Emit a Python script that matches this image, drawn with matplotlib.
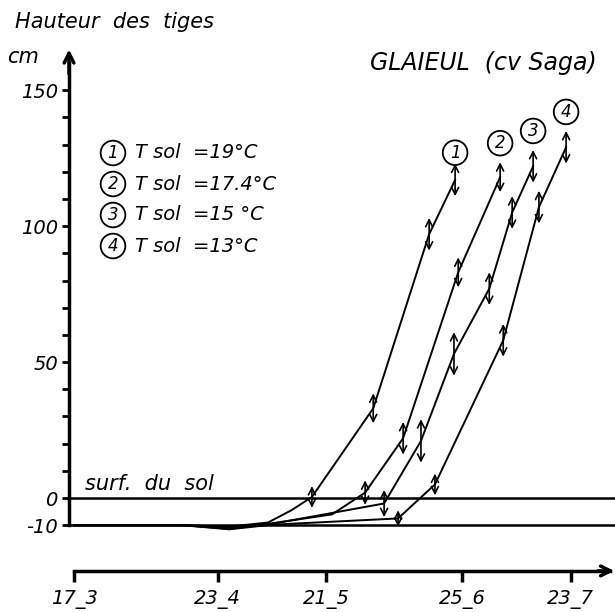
import numpy as np
import matplotlib.pyplot as plt

# days counted from 17 March
tick_days = [0, 37, 65, 100, 128]
tick_labels = ['17_3', '23_4', '21_5', '25_6', '23_7']

# stem height (cm), one curve per soil temperature; err = 0 -> no arrow
c1_days = [0, 28, 40, 50, 56, 61.3, 77.1, 91.5, 98.2]
c1_h = [-10, -10, -10.5, -9, -4.5, 0.4, 33, 97, 117]
c1_err = [0, 0, 0, 0, 0, 4, 5.5, 6, 6]

c2_days = [0, 28, 40, 50, 66.5, 75, 84.8, 99, 109.8]
c2_h = [-10, -10, -11, -9.5, -6, 2, 22, 83, 118]
c2_err = [0, 0, 0, 0, 0, 4.5, 6, 5.5, 5.5]

c3_days = [0, 28, 40, 51, 79.9, 89.4, 97.9, 107, 112.9, 118.3]
c3_h = [-10, -10, -11.3, -9.5, -2, 21, 53, 77, 105, 122]
c3_err = [0, 0, 0, 0, 5, 8, 8, 6, 6, 6]

c4_days = [0, 28, 40, 51, 83.5, 93, 110.6, 119.8, 126.8]
c4_h = [-10, -10, -11.5, -9.8, -7.5, 5, 58, 107, 129]
c4_err = [0, 0, 0, 0, 3, 4, 6, 6, 6]

curve_ids = ['1', '2', '3', '4']
label_lift = [10, 12.5, 13, 13]
legend_txt = ['T sol  =19°C', 'T sol  =17.4°C', 'T sol  =15 °C', 'T sol  =13°C']

curves = [(c1_days, c1_h, c1_err), (c2_days, c2_h, c2_err),
          (c3_days, c3_h, c3_err), (c4_days, c4_h, c4_err)]

fig = plt.figure(figsize=(6.15, 6.12), dpi=100)
ax = fig.add_axes([0.1122, 0.0529, 0.8878, 0.862])
x0, x1 = -1.3, 139.4
ax.set_xlim(x0, x1)
ax.set_ylim(-30, 164)

for sp in ['top', 'right']:
    ax.spines[sp].set_visible(False)
ax.spines['left'].set_linewidth(2.5)
ax.spines['left'].set_bounds(-10, 160)
ax.spines['bottom'].set_linewidth(2.5)
ax.spines['bottom'].set_position(('data', -26.8))
ax.spines['bottom'].set_bounds(0, 138)

# axis arrow heads
ax.annotate('', xy=(x0, 165), xytext=(x0, 156), annotation_clip=False,
            arrowprops=dict(arrowstyle='->,head_length=0.7,head_width=0.35',
                            lw=2.5, shrinkA=0, shrinkB=0))
ax.annotate('', xy=(139.2, -26.8), xytext=(135, -26.8), annotation_clip=False,
            arrowprops=dict(arrowstyle='->,head_length=0.7,head_width=0.35',
                            lw=2.5, shrinkA=0, shrinkB=0))

ax.set_xticks(tick_days)
ax.set_xticklabels(tick_labels, fontsize=14, style='italic')
ax.tick_params(axis='x', direction='out', length=8, width=2.5, pad=6)

yt = list(range(-10, 151, 10))
ax.set_yticks(yt)
ax.set_yticklabels([str(v) if v in (-10, 0, 50, 100, 150) else '' for v in yt],
                   fontsize=14, style='italic')
ax.tick_params(axis='y', direction='out', length=5, width=2, pad=3)

# soil surface and planting depth
ax.axhline(0, color='black', lw=1.8)
ax.axhline(-10, color='black', lw=1.8)
ax.text(2.8, 1.5, 'surf.  du  sol', fontsize=15, style='italic', va='bottom')

for (d, h, e), cid, lift in zip(curves, curve_ids, label_lift):
    ax.plot(d, h, color='black', lw=1.4)
    for xi, yi, ei in zip(d, h, e):
        if ei > 0:
            ax.annotate('', xy=(xi, yi + ei), xytext=(xi, yi - ei),
                        arrowprops=dict(arrowstyle='<->,head_length=0.5,head_width=0.25',
                                        lw=1.2, shrinkA=0, shrinkB=0))
    ax.text(d[-1], h[-1] + lift, cid, fontsize=12, style='italic',
            ha='center', va='center',
            bbox=dict(boxstyle='circle,pad=0.2', fc='white', ec='black', lw=1.3))

# legend block
for i, (cid, txt) in enumerate(zip(curve_ids, legend_txt)):
    yy = 1 - (153 + i * 31) / 612
    fig.text(113 / 615, yy, cid, fontsize=12, style='italic', ha='center', va='center',
             bbox=dict(boxstyle='circle,pad=0.2', fc='white', ec='black', lw=1.3))
    fig.text(135 / 615, yy, txt, fontsize=14, style='italic', va='center')

fig.text(15 / 615, 1 - 22 / 612, 'Hauteur  des  tiges', fontsize=15, style='italic', va='center')
fig.text(7 / 615, 1 - 57 / 612, 'cm', fontsize=15, style='italic', va='center')
fig.text(597 / 615, 1 - 63 / 612, 'GLAIEUL  (cv Saga)', fontsize=17, style='italic',
         ha='right', va='center')

plt.savefig('out.png', dpi=100)
